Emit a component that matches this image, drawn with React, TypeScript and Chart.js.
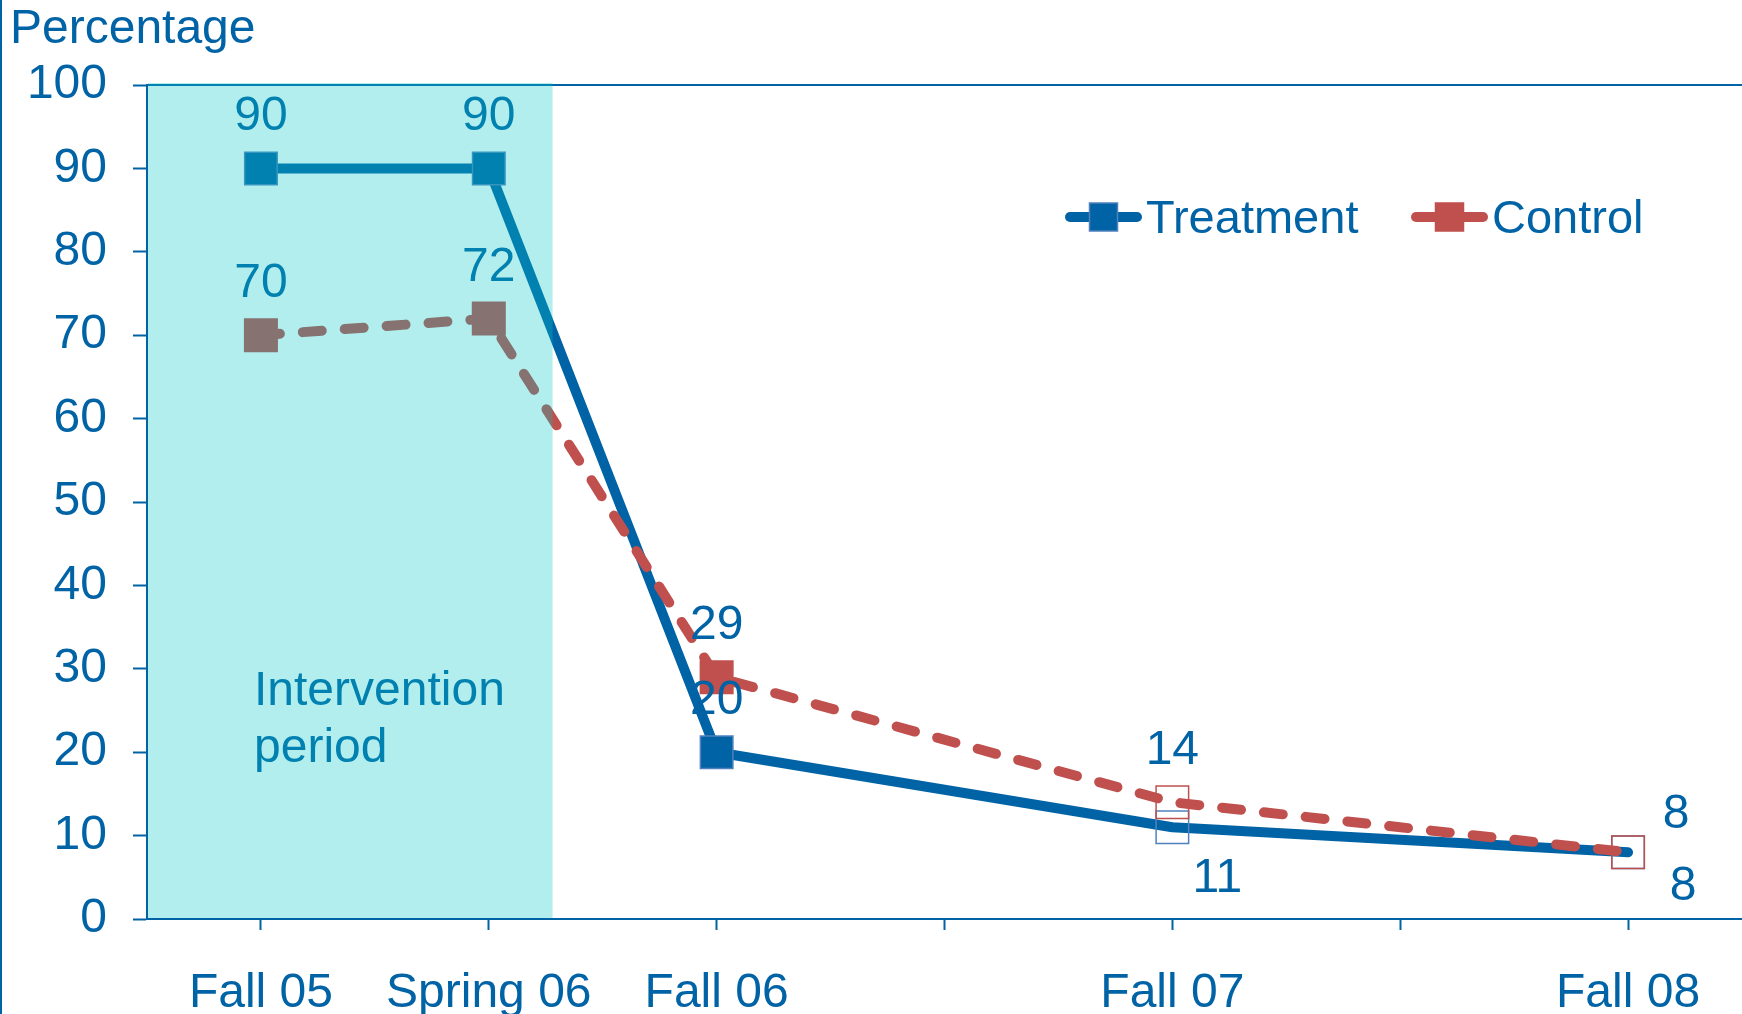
import { useEffect, useRef } from 'react';
import { Chart, registerables } from 'chart.js';

Chart.register(...registerables);

// Survey waves on the x axis (blank slots keep the spacing between yearly waves)
const periods = ['Fall 05', 'Spring 06', 'Fall 06', '', 'Fall 07', '', 'Fall 08'];
const treatment = [90, 90, 20, null, 11, null, 8];
const control = [70, 72, 29, null, 14, null, 8];
const yTickStep = 10;
const yMin = 0;
const yMax = 100;
// Intervention runs from the start through a little past Spring 06 (category-scale position)
const interventionEnd = 1.28;

// Where each value label sits relative to its point
const treatmentLabelSpots = ['above', 'above', 'above', null, 'belowRight', null, 'lowerRight'];
const controlLabelSpots = ['above', 'above', 'above', null, 'above', null, 'upperRight'];

const BLUE = '#0063A6';
const BLUE_EDGE = '#4F81BD';
const RED = '#C0504D';
const SHADE = 'rgba(0, 199, 199, 0.3)';
const FONT = '"Liberation Sans", Arial, Helvetica, sans-serif';

const spotOffsets: Record<string, [number, number]> = {
  above: [0, -38],
  belowRight: [45, 65],
  lowerRight: [55, 48],
  upperRight: [48, -24],
};

const decorPlugin = {
  id: 'decor',
  beforeDatasetsDraw(chart: any) {
    const { ctx, chartArea: a } = chart;
    ctx.save();
    ctx.strokeStyle = BLUE;
    ctx.lineWidth = 2;
    ctx.beginPath();
    ctx.moveTo(a.left, a.top);
    ctx.lineTo(a.right, a.top);
    ctx.stroke();
    ctx.restore();
  },
  afterDatasetsDraw(chart: any) {
    const { ctx, chartArea: a } = chart;
    ctx.save();
    // value labels
    ctx.font = `48px ${FONT}`;
    ctx.fillStyle = BLUE;
    ctx.textAlign = 'center';
    ctx.textBaseline = 'alphabetic';
    const spots = [treatmentLabelSpots, controlLabelSpots];
    chart.data.datasets.forEach((ds: any, di: number) => {
      const meta = chart.getDatasetMeta(di);
      ds.data.forEach((v: number | null, i: number) => {
        const spot = spots[di][i];
        if (v === null || !spot) return;
        const pt = meta.data[i];
        const [dx, dy] = spotOffsets[spot];
        ctx.fillText(String(v), pt.x + dx, pt.y + dy);
      });
    });
    // intervention period shading
    const xEnd = chart.scales.x.getPixelForValue(interventionEnd);
    ctx.fillStyle = SHADE;
    ctx.fillRect(a.left + 1, a.top - 2, xEnd - a.left - 1, a.bottom - a.top + 1);
    ctx.restore();
  },
  afterDraw(chart: any) {
    const { ctx, height } = chart;
    ctx.save();
    // left frame rule
    ctx.fillStyle = BLUE;
    ctx.fillRect(0, 0, 2, height);
    // axis title
    ctx.font = `48px ${FONT}`;
    ctx.textAlign = 'left';
    ctx.textBaseline = 'alphabetic';
    ctx.fillText('Percentage', 10, 43);
    // annotation inside the shaded band
    ctx.fillStyle = 'rgb(0, 129, 176)';
    ctx.fillText('Intervention', 254, 705);
    ctx.fillText('period', 254, 762);
    // legend
    const items = [
      { label: 'Treatment', color: BLUE, edge: BLUE_EDGE, x: 1070 },
      { label: 'Control', color: RED, edge: RED, x: 1416 },
    ];
    const y = 217;
    items.forEach((it) => {
      ctx.strokeStyle = it.color;
      ctx.lineWidth = 10;
      ctx.lineCap = 'round';
      ctx.beginPath();
      ctx.moveTo(it.x, y);
      ctx.lineTo(it.x + 67, y);
      ctx.stroke();
      const cx = it.x + 33.5;
      ctx.fillStyle = it.color;
      ctx.fillRect(cx - 14, y - 14, 28, 28);
      ctx.strokeStyle = it.edge;
      ctx.lineWidth = 1.5;
      ctx.strokeRect(cx - 14, y - 14, 28, 28);
      ctx.fillStyle = BLUE;
      ctx.font = `47px ${FONT}`;
      ctx.fillText(it.label, it.x + 76, y + 16);
    });
    ctx.restore();
  },
};

export default function App() {
  const canvasRef = useRef<HTMLCanvasElement | null>(null);

  useEffect(() => {
    const canvas = canvasRef.current;
    if (!canvas) return;
    const filled = (c: string) => [c, c, c, c, 'rgba(0,0,0,0)', c, 'rgba(0,0,0,0)'];
    const chart = new Chart(canvas, {
      type: 'line',
      data: {
        labels: periods,
        datasets: [
          {
            label: 'Treatment',
            data: treatment,
            borderColor: BLUE,
            borderWidth: 10,
            borderCapStyle: 'round',
            borderJoinStyle: 'round',
            spanGaps: true,
            pointStyle: 'rect',
            pointRadius: 23,
            pointBorderWidth: 1.5,
            pointBackgroundColor: filled(BLUE),
            pointBorderColor: BLUE_EDGE,
            order: 2,
          },
          {
            label: 'Control',
            data: control,
            borderColor: RED,
            borderWidth: 10,
            borderDash: [19, 23],
            borderCapStyle: 'round',
            borderJoinStyle: 'round',
            spanGaps: true,
            pointStyle: 'rect',
            pointRadius: 23,
            pointBorderWidth: 1.5,
            pointBackgroundColor: filled(RED),
            pointBorderColor: RED,
            order: 1,
          },
        ],
      } as any,
      options: {
        responsive: false,
        animation: false,
        devicePixelRatio: 1,
        layout: { autoPadding: false, padding: { top: 85, right: -3, bottom: 0, left: 0 } },
        plugins: {
          legend: { display: false },
          tooltip: { enabled: false },
        },
        scales: {
          x: {
            type: 'category',
            offset: true,
            grid: {
              drawOnChartArea: false,
              offset: false,
              color: BLUE,
              tickLength: 11,
              tickWidth: 2,
            },
            border: { display: true, color: BLUE, width: 2 },
            ticks: {
              color: BLUE,
              font: { family: FONT, size: 48 },
              padding: 35,
              autoSkip: false,
              maxRotation: 0,
              minRotation: 0,
            },
            afterFit(s: any) {
              s.height = 95;
              s.paddingLeft = 0;
              s.paddingRight = 0;
            },
          },
          y: {
            min: yMin,
            max: yMax,
            grid: {
              drawOnChartArea: false,
              color: BLUE,
              tickLength: 14,
              tickWidth: 2,
            },
            border: { display: true, color: BLUE, width: 2 },
            ticks: {
              stepSize: yTickStep,
              color: BLUE,
              font: { family: FONT, size: 48 },
              padding: 26,
            },
            afterFit(s: any) {
              s.width = 147;
              s.paddingTop = 0;
              s.paddingBottom = 0;
            },
          },
        },
      } as any,
      plugins: [decorPlugin],
    });
    return () => chart.destroy();
  }, []);

  return (
    <div style={{ position: 'absolute', left: 0, top: 0, width: 1742, height: 1014, background: '#fff' }}>
      <canvas ref={canvasRef} width={1742} height={1014} style={{ display: 'block' }} />
    </div>
  );
}
